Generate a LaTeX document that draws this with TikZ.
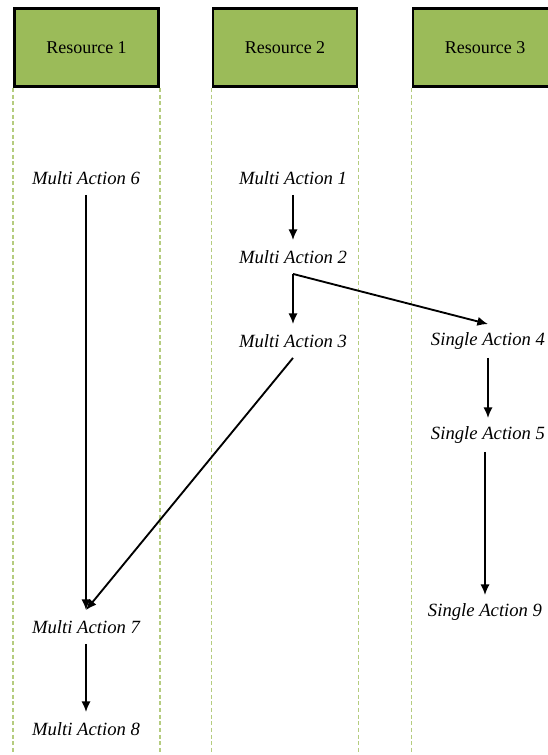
\documentclass[tikz,border=0pt]{standalone}
\usepackage{fontspec}
\setmainfont{Liberation Serif}
\usetikzlibrary{arrows.meta, positioning}
\definecolor{resgreen}{HTML}{9BBB59}
\definecolor{lanegreen}{HTML}{B5CC7F}

\begin{document}
\begin{tikzpicture}[x=0.75pt, y=-0.75pt,
    resource/.style={draw, line width=2.2pt, fill=resgreen,
        minimum width=108pt, minimum height=58.5pt,
        font=\fontsize{13.5}{15}\selectfont},
    action/.style={font=\fontsize{14}{16}\selectfont\itshape,
        minimum height=25pt, inner sep=0pt},
    lane/.style={lanegreen, dash pattern=on 3pt off 2pt, line width=0.9pt},
    flow/.style={-{Latex[length=8pt,width=7pt]}, line width=1.4pt}]
\useasboundingbox (0,0) rectangle (548,755);
\clip (0,0) rectangle (548,755);
\coordinate (bottom) at (0,755);

% swim lanes
\node[resource] (r1) at (86.5,47.5) {Resource 1};
\node[resource] (r2) at (285,47.5) {Resource 2};
\node[resource] (r3) at (485,47.5) {Resource 3};
\draw[lane] (r1.south west) -- (r1.south west |- bottom);
\draw[lane] (r1.south east) -- (r1.south east |- bottom);
\draw[lane] (r2.south west) -- (r2.south west |- bottom);
\draw[lane] (r2.south east) -- (r2.south east |- bottom);
\draw[lane] (r3.south west) -- (r3.south west |- bottom);

% actions
\node[action] (ma6) at (86,178) {Multi Action 6};
\node[action] (ma7) at (86,627) {Multi Action 7};
\node[action] (ma8) at (86,729) {Multi Action 8};
\node[action] (ma1) at (293,178) {Multi Action 1};
\node[action] (ma2) at (293,257) {Multi Action 2};
\node[action] (ma3) at (293,341) {Multi Action 3};
\node[action] (sa4) at (488,341) {Single Action 4};
\node[action] (sa5) at (488,435) {Single Action 5};
\node[action] (sa9) at (485,612) {Single Action 9};

\draw[flow] (ma1) -- (ma2);
\draw[flow] (ma2.south) -- (ma3.north);
\draw[flow] (ma2.south) -- (sa4.north);
\draw[flow] (ma3.south) -- (ma7.north);
\draw[flow] (ma6) -- (ma7);
\draw[flow] (ma7) -- (ma8);
\draw[flow] (sa4) -- (sa5);
\draw[flow] (sa5.south -| sa9) -- (sa9);
\end{tikzpicture}
\end{document}
